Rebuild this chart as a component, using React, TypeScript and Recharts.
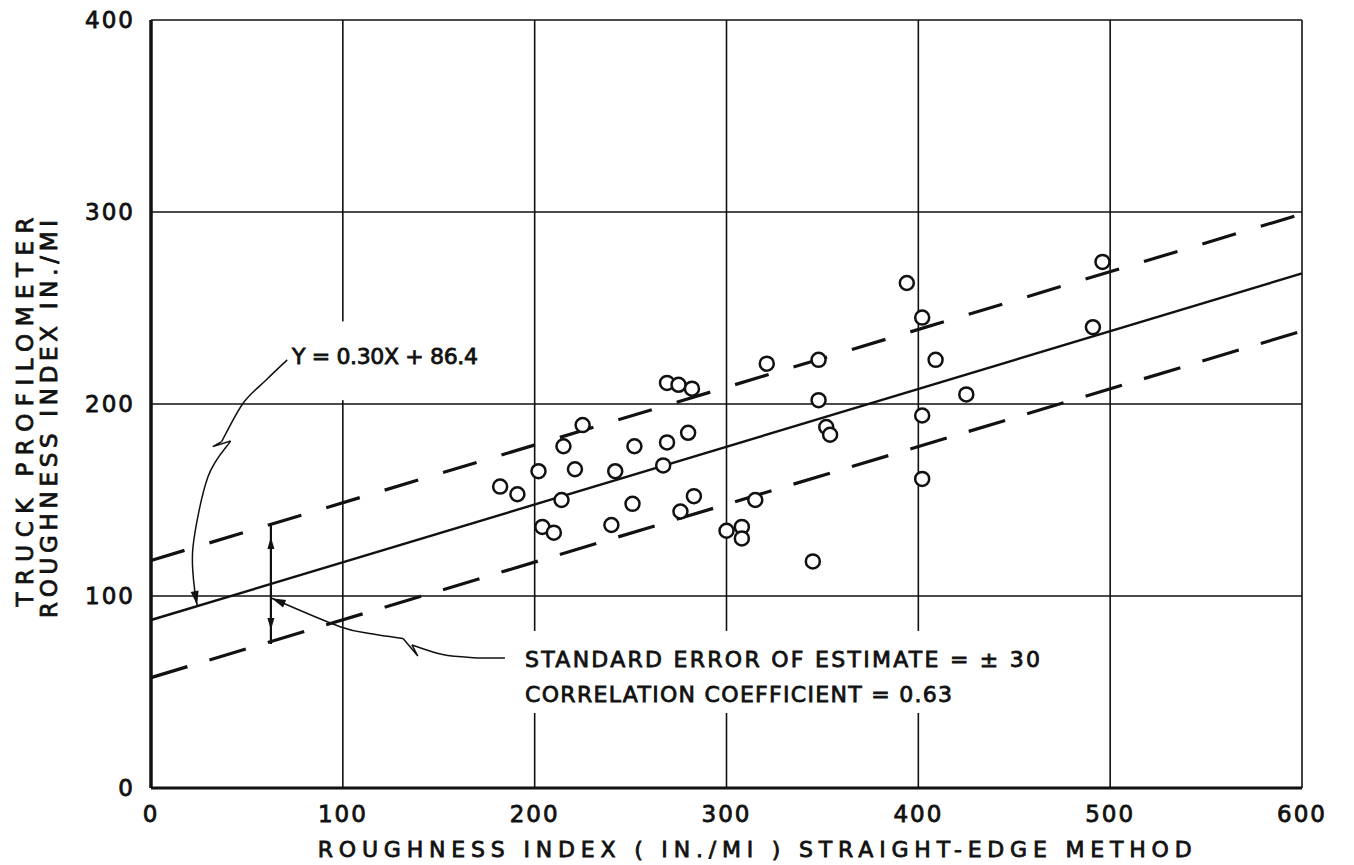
import React from "react";
import { ScatterChart, Scatter, XAxis, YAxis, CartesianGrid, ReferenceLine } from "recharts";

// axes
const xDomain = [0, 600];
const yDomain = [0, 400];
const xTicks = [0, 100, 200, 300, 400, 500, 600];
const yTicks = [0, 100, 200, 300, 400];

// observations: straight-edge roughness (x) vs truck profilometer roughness (y)
const straightEdge = [
  182, 191, 202, 204, 210, 215, 214, 221, 225, 240, 242, 251, 252, 267, 269, 269, 275, 276, 280, 282,
  283, 300, 308, 308, 315, 321, 345, 348, 348, 352, 354, 394, 402, 402, 402, 409, 425, 491, 496,
];
const profilometer = [
  157, 153, 165, 136, 133, 178, 150, 166, 189, 137, 165, 148, 178, 168, 180, 211, 210, 144, 185, 208,
  152, 134, 136, 130, 150, 221, 118, 223, 202, 188, 184, 263, 245, 194, 161, 223, 205, 240, 274,
];

// regression line Y = 0.30X + 86.4 and the +/- 30 band, end points
const fitX = [0, 600];
const fitY = [87.5, 268];
const upperY = [118.5, 299];
const lowerY = [57.5, 238];

// annotation geometry in data units
const eqLeader: [number, number][] = [[71, 223], [60, 212.5], [48, 200.4], [36.8, 180.4]];
const eqZig: [number, number][] = [[36.8, 180.4], [32.2, 177.8], [41.5, 180.7]];
const eqTail: [number, number][] = [[41.5, 180.7], [29.7, 162.1], [21.9, 125.7], [22.9, 101.6], [24.1, 95.3]];
const seLeader: [number, number][] = [[62.9, 98.8], [98.5, 84.0], [115.7, 80.2], [131.4, 77.9]];
const seZig: [number, number][] = [[131.4, 77.9], [139.1, 68.75], [136, 74.5]];
const seTail: [number, number][] = [[136, 74.5], [152, 69.5], [168, 67.9], [184.5, 67.7]];
const spanX = 62.5;
const spanY = [138, 75];
const spanHeads = [130.7, 82.3];

const points = straightEdge.map((x, i) => ({ x, y: profilometer[i] }));
const seg = (ys: number[]) => [
  { x: fitX[0], y: ys[0] },
  { x: fitX[1], y: ys[1] },
];

const font = "'DejaVu Sans', Verdana, sans-serif";
const ink = "#111";

const smooth = (pts: number[][]) => {
  let d = `M${pts[0][0]},${pts[0][1]}`;
  for (let i = 0; i < pts.length - 1; i++) {
    const p0 = pts[i - 1] || pts[i];
    const p1 = pts[i];
    const p2 = pts[i + 1];
    const p3 = pts[i + 2] || p2;
    const c1 = [p1[0] + (p2[0] - p0[0]) / 6, p1[1] + (p2[1] - p0[1]) / 6];
    const c2 = [p2[0] - (p3[0] - p1[0]) / 6, p2[1] - (p3[1] - p1[1]) / 6];
    d += ` C${c1[0]},${c1[1]} ${c2[0]},${c2[1]} ${p2[0]},${p2[1]}`;
  }
  return d;
};

const head = (tip: number[], from: number[], len = 14, half = 4) => {
  const dx = tip[0] - from[0];
  const dy = tip[1] - from[1];
  const n = Math.hypot(dx, dy) || 1;
  const ux = dx / n;
  const uy = dy / n;
  const bx = tip[0] - ux * len;
  const by = tip[1] - uy * len;
  return `${tip[0]},${tip[1]} ${bx - uy * half},${by + ux * half} ${bx + uy * half},${by - ux * half}`;
};

const Annotations = (props: any) => {
  const { x1, y1, x2, y2 } = props;
  const sx = (v: number) => x1 + ((x2 - x1) * (v - xDomain[0])) / (xDomain[1] - xDomain[0]);
  const sy = (v: number) => y1 + ((y2 - y1) * (v - yDomain[0])) / (yDomain[1] - yDomain[0]);
  const P = (pts: [number, number][]) => pts.map((p) => [sx(p[0]), sy(p[1])]);
  const txt = { fontFamily: font, fontSize: 22, fill: ink, stroke: ink, strokeWidth: 0.8 };

  const eqT = P(eqTail);
  const seL = P(seLeader);
  const poly = (pts: number[][]) => pts.map((p) => p.join(",")).join(" ");

  return (
    <g>
      {/* white knock-outs behind the lettering */}
      <rect x={sx(70)} y={sy(243)} width={sx(176) - sx(70)} height={sy(202) - sy(243)} fill="#fff" />
      <rect x={sx(184.5)} y={sy(81.8)} width={sx(468.5) - sx(184.5)} height={sy(39.1) - sy(81.8)} fill="#fff" />

      <g fill="none" stroke={ink} strokeWidth={1.5}>
        <path d={smooth(P(eqLeader))} />
        <polyline points={poly(P(eqZig))} />
        <path d={smooth(eqT)} />
        <path d={smooth(seL)} />
        <polyline points={poly(P(seZig))} />
        <path d={smooth(P(seTail))} />
        <line x1={sx(spanX)} y1={sy(spanY[0])} x2={sx(spanX)} y2={sy(spanY[1])} strokeWidth={2.2} />
      </g>
      <polygon points={head(eqT[eqT.length - 1], eqT[eqT.length - 2])} fill={ink} />
      <polygon points={head(seL[0], seL[1])} fill={ink} />
      <polygon points={head([sx(spanX), sy(spanHeads[0])], [sx(spanX), sy(spanHeads[0]) + 10], 12, 3.5)} fill={ink} />
      <polygon points={head([sx(spanX), sy(spanHeads[1])], [sx(spanX), sy(spanHeads[1]) - 10], 12, 3.5)} fill={ink} />

      <text {...txt} x={sx(73.5)} y={sy(220.8)} textLength={186} lengthAdjust="spacing">
        Y = 0.30X + 86.4
      </text>
      <text {...txt} x={sx(195)} y={sy(63)} textLength={515} lengthAdjust="spacing">
        STANDARD ERROR OF ESTIMATE = ± 30
      </text>
      <text {...txt} x={sx(195)} y={sy(44.8)} textLength={427} lengthAdjust="spacing">
        CORRELATION COEFFICIENT = 0.63
      </text>

      {/* axis titles */}
      <text {...txt} x={sx(314.7)} y={sy(-36)} textAnchor="middle" textLength={874} lengthAdjust="spacing">
        ROUGHNESS INDEX ( IN./MI ) STRAIGHT-EDGE METHOD
      </text>
      <text
        {...txt}
        fontSize={23}
        transform={`translate(${sx(-61.5)},${sy(195.8)}) rotate(-90)`}
        textAnchor="middle"
        textLength={389}
        lengthAdjust="spacing"
      >
        TRUCK PROFILOMETER
      </text>
      <text
        {...txt}
        fontSize={23}
        transform={`translate(${sx(-49)},${sy(192.2)}) rotate(-90)`}
        textAnchor="middle"
        textLength={398}
        lengthAdjust="spacing"
      >
        ROUGHNESS INDEX IN./MI
      </text>
    </g>
  );
};

const OpenCircle = (props: any) => {
  const { cx, cy } = props;
  if (cx == null || cy == null) return null;
  return <circle cx={cx} cy={cy} r={7} fill="#fff" stroke={ink} strokeWidth={2.5} />;
};

const tickStyle = { fontFamily: font, fontSize: 23, fill: ink, stroke: ink, strokeWidth: 0.8, letterSpacing: 2 };

export default function App() {
  return (
    <div style={{ position: "absolute", left: 0, top: 0, width: 1354, height: 865, background: "#fff" }}>
      <ScatterChart width={1354} height={865} margin={{ top: 20, right: 52, bottom: 0, left: 0 }}>
        <CartesianGrid stroke={ink} strokeWidth={1.6} fill="none" />
        <XAxis
          type="number"
          dataKey="x"
          domain={xDomain}
          ticks={xTicks}
          interval={0}
          height={77}
          axisLine={{ stroke: ink, strokeWidth: 3 }}
          tickLine={false}
          tickSize={0}
          tickMargin={18}
          tick={tickStyle}
        />
        <YAxis
          type="number"
          dataKey="y"
          domain={yDomain}
          ticks={yTicks}
          interval={0}
          width={151}
          axisLine={{ stroke: ink, strokeWidth: 3.5 }}
          tickLine={false}
          tickSize={0}
          tickMargin={16}
          tick={tickStyle}
        />
        <ReferenceLine
          segment={[
            { x: xDomain[0], y: yDomain[0] },
            { x: xDomain[1], y: yDomain[1] },
          ]}
          stroke="none"
          shape={(p: any) => <Annotations {...p} />}
        />
        <ReferenceLine segment={seg(upperY)} stroke={ink} strokeWidth={3.2} strokeDasharray="35 26" />
        <ReferenceLine segment={seg(lowerY)} stroke={ink} strokeWidth={3.2} strokeDasharray="38 23" />
        <ReferenceLine segment={seg(fitY)} stroke={ink} strokeWidth={2.4} />
        <Scatter data={points} shape={OpenCircle} isAnimationActive={false} />
      </ScatterChart>
    </div>
  );
}
